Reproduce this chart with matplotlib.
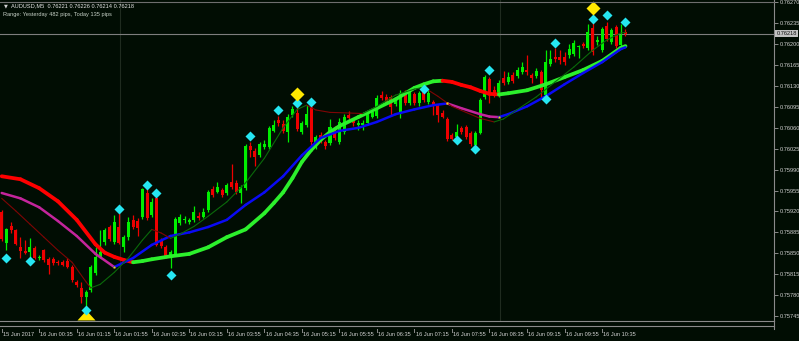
import numpy as np
import matplotlib
matplotlib.use("Agg")
import matplotlib.pyplot as plt
from matplotlib import font_manager
from matplotlib.collections import LineCollection
from matplotlib.lines import Line2D
from matplotlib.transforms import blended_transform_factory

# ---------------- data ----------------
symbol = "AUDUSD,M5"
range_info = "Range: Yesterday 482 pips, Today 135 pips"
time_labels = ["15 Jun 2017", "16 Jun 00:35", "16 Jun 01:15", "16 Jun 01:55", "16 Jun 02:35",
               "16 Jun 03:15", "16 Jun 03:55", "16 Jun 04:35", "16 Jun 05:15", "16 Jun 05:55",
               "16 Jun 06:35", "16 Jun 07:15", "16 Jun 07:55", "16 Jun 08:35", "16 Jun 09:15",
               "16 Jun 09:55", "16 Jun 10:35"]
time_label_bars = [0, 8, 16, 24, 32, 40, 48, 56, 64, 72, 80, 88, 96, 104, 112, 120, 128]
price_ticks = [0.75745, 0.75780, 0.75815, 0.75850, 0.75885, 0.75920, 0.75955, 0.75990,
               0.76025, 0.76060, 0.76095, 0.76130, 0.76165, 0.76200, 0.76235, 0.76270]

open_ = [0.75919, 0.75867, 0.75895, 0.75889, 0.75860, 0.75854, 0.75852, 0.75859, 0.75842, 0.75855,
         0.75840, 0.75840, 0.75835, 0.75835, 0.75837, 0.75827, 0.75802, 0.75792, 0.75777, 0.75788,
         0.75817, 0.75844, 0.75869, 0.75894, 0.75869, 0.75894, 0.75860, 0.75877, 0.75905, 0.75904,
         0.75910, 0.75951, 0.75914, 0.75942, 0.75872, 0.75860, 0.75847, 0.75847, 0.75900, 0.75905,
         0.75902, 0.75905, 0.75912, 0.75910, 0.75922, 0.75957, 0.75952, 0.75956, 0.75951, 0.75969,
         0.75967, 0.75951, 0.75959, 0.76029, 0.76021, 0.76014, 0.76028, 0.76028, 0.76055, 0.76073,
         0.76066, 0.76053, 0.76081, 0.76085, 0.76053, 0.76065, 0.76095, 0.76033, 0.76048, 0.76036,
         0.76035, 0.76060, 0.76036, 0.76053, 0.76081, 0.76073, 0.76065, 0.76065, 0.76068, 0.76078,
         0.76080, 0.76115, 0.76112, 0.76112, 0.76100, 0.76085, 0.76120, 0.76101, 0.76117, 0.76101,
         0.76120, 0.76103, 0.76103, 0.76096, 0.76085, 0.76075, 0.76048, 0.76045, 0.76060, 0.76061,
         0.76051, 0.76031, 0.76051, 0.76112, 0.76142, 0.76123, 0.76115, 0.76143, 0.76137, 0.76148,
         0.76147, 0.76153, 0.76157, 0.76148, 0.76147, 0.76153, 0.76115, 0.76167, 0.76179, 0.76179,
         0.76179, 0.76182, 0.76184, 0.76195, 0.76200, 0.76194, 0.76227, 0.76204, 0.76190, 0.76230,
         0.76204, 0.76229, 0.76199, 0.76221]
high_ = [0.75922, 0.75892, 0.75902, 0.75890, 0.75877, 0.75872, 0.75875, 0.75862, 0.75847, 0.75857,
         0.75844, 0.75844, 0.75838, 0.75839, 0.75842, 0.75830, 0.75805, 0.75802, 0.75788, 0.75830,
         0.75860, 0.75889, 0.75892, 0.75897, 0.75914, 0.75917, 0.75880, 0.75910, 0.75914, 0.75909,
         0.75959, 0.75961, 0.75942, 0.75947, 0.75875, 0.75864, 0.75855, 0.75910, 0.75916, 0.75912,
         0.75909, 0.75929, 0.75919, 0.75926, 0.75956, 0.75962, 0.75969, 0.75959, 0.75967, 0.75999,
         0.75972, 0.75964, 0.76033, 0.76036, 0.76026, 0.76036, 0.76040, 0.76063, 0.76073, 0.76080,
         0.76073, 0.76083, 0.76096, 0.76100, 0.76071, 0.76098, 0.76100, 0.76048, 0.76053, 0.76040,
         0.76075, 0.76063, 0.76076, 0.76083, 0.76088, 0.76076, 0.76073, 0.76073, 0.76088, 0.76093,
         0.76115, 0.76122, 0.76117, 0.76115, 0.76110, 0.76123, 0.76123, 0.76122, 0.76120, 0.76122,
         0.76127, 0.76123, 0.76107, 0.76100, 0.76090, 0.76078, 0.76051, 0.76066, 0.76063, 0.76065,
         0.76055, 0.76055, 0.76110, 0.76148, 0.76145, 0.76130, 0.76140, 0.76155, 0.76153, 0.76153,
         0.76162, 0.76170, 0.76182, 0.76152, 0.76160, 0.76157, 0.76190, 0.76190, 0.76194, 0.76190,
         0.76187, 0.76200, 0.76207, 0.76199, 0.76204, 0.76234, 0.76236, 0.76214, 0.76229, 0.76237,
         0.76227, 0.76232, 0.76234, 0.76226]
low_ = [0.75870, 0.75855, 0.75884, 0.75864, 0.75842, 0.75849, 0.75844, 0.75840, 0.75839, 0.75835,
        0.75815, 0.75830, 0.75831, 0.75828, 0.75825, 0.75802, 0.75793, 0.75767, 0.75760, 0.75785,
        0.75813, 0.75842, 0.75864, 0.75870, 0.75865, 0.75865, 0.75852, 0.75872, 0.75890, 0.75879,
        0.75907, 0.75906, 0.75910, 0.75862, 0.75859, 0.75842, 0.75825, 0.75845, 0.75897, 0.75900,
        0.75899, 0.75902, 0.75905, 0.75909, 0.75919, 0.75944, 0.75951, 0.75944, 0.75947, 0.75957,
        0.75949, 0.75934, 0.75956, 0.76011, 0.75996, 0.76011, 0.76024, 0.76024, 0.76053, 0.76063,
        0.76051, 0.76036, 0.76078, 0.76055, 0.76050, 0.76061, 0.76023, 0.76024, 0.76035, 0.76024,
        0.76031, 0.76040, 0.76033, 0.76050, 0.76073, 0.76063, 0.76056, 0.76056, 0.76065, 0.76076,
        0.76076, 0.76107, 0.76100, 0.76080, 0.76096, 0.76076, 0.76098, 0.76098, 0.76098, 0.76096,
        0.76103, 0.76100, 0.76081, 0.76070, 0.76076, 0.76038, 0.76040, 0.76041, 0.76050, 0.76041,
        0.76029, 0.76026, 0.76050, 0.76108, 0.76101, 0.76112, 0.76112, 0.76132, 0.76133, 0.76135,
        0.76143, 0.76150, 0.76148, 0.76135, 0.76143, 0.76112, 0.76112, 0.76163, 0.76170, 0.76167,
        0.76165, 0.76177, 0.76180, 0.76177, 0.76194, 0.76190, 0.76182, 0.76199, 0.76187, 0.76205,
        0.76200, 0.76194, 0.76197, 0.76214]
close_ = [0.75874, 0.75890, 0.75889, 0.75865, 0.75854, 0.75851, 0.75860, 0.75842, 0.75844, 0.75839,
          0.75830, 0.75834, 0.75833, 0.75830, 0.75827, 0.75805, 0.75797, 0.75777, 0.75785, 0.75827,
          0.75844, 0.75852, 0.75889, 0.75874, 0.75902, 0.75867, 0.75877, 0.75902, 0.75894, 0.75892,
          0.75957, 0.75909, 0.75936, 0.75864, 0.75862, 0.75845, 0.75852, 0.75907, 0.75910, 0.75907,
          0.75905, 0.75919, 0.75909, 0.75919, 0.75952, 0.75947, 0.75961, 0.75947, 0.75964, 0.75961,
          0.75952, 0.75961, 0.76029, 0.76023, 0.76011, 0.76033, 0.76033, 0.76060, 0.76065, 0.76068,
          0.76055, 0.76078, 0.76091, 0.76058, 0.76068, 0.76083, 0.76036, 0.76045, 0.76040, 0.76029,
          0.76061, 0.76043, 0.76070, 0.76078, 0.76076, 0.76068, 0.76068, 0.76068, 0.76085, 0.76086,
          0.76110, 0.76110, 0.76103, 0.76095, 0.76105, 0.76118, 0.76101, 0.76118, 0.76101, 0.76118,
          0.76107, 0.76118, 0.76096, 0.76081, 0.76078, 0.76041, 0.76041, 0.76053, 0.76053, 0.76045,
          0.76033, 0.76051, 0.76107, 0.76145, 0.76117, 0.76115, 0.76135, 0.76135, 0.76145, 0.76138,
          0.76157, 0.76162, 0.76153, 0.76143, 0.76155, 0.76123, 0.76170, 0.76175, 0.76175, 0.76174,
          0.76170, 0.76192, 0.76202, 0.76197, 0.76197, 0.76220, 0.76187, 0.76207, 0.76225, 0.76209,
          0.76224, 0.76197, 0.76215, 0.76218]

# slow MA (thick red/green)
slow_bar = [0, 4, 8, 12, 16, 20, 22, 24, 26, 28, 30, 32, 36, 40, 44, 48, 52, 56, 58, 60, 62, 64,
            66, 68, 70, 72, 76, 80, 84, 88, 90, 92, 94, 96, 98, 100, 102, 104, 106, 108, 112,
            116, 120, 124, 128, 132, 133]
slow_val = [0.75979, 0.75974, 0.75959, 0.75937, 0.75906, 0.75865, 0.75851, 0.75844, 0.75839,
            0.75835, 0.75837, 0.75840, 0.75845, 0.75849, 0.75860, 0.75877, 0.75890, 0.75917,
            0.75934, 0.75952, 0.75976, 0.76003, 0.76023, 0.76040, 0.76053, 0.76063, 0.76078,
            0.76093, 0.76108, 0.76127, 0.76133, 0.76138, 0.76139, 0.76137, 0.76132, 0.76128,
            0.76122, 0.76117, 0.76116, 0.76118, 0.76123, 0.76133, 0.76145, 0.76157, 0.76172,
            0.76194, 0.76197]
# medium MA (blue/magenta)
mid_bar = [0, 4, 8, 12, 16, 20, 24, 28, 32, 36, 40, 44, 48, 52, 56, 60, 64, 68, 72, 76, 80, 84,
           88, 92, 95, 98, 102, 104, 106, 108, 112, 116, 120, 124, 128, 132, 133]
mid_val = [0.75951, 0.75942, 0.75927, 0.75904, 0.75879, 0.75849, 0.75827, 0.75842, 0.75864,
           0.75879, 0.75885, 0.75894, 0.75906, 0.75931, 0.75952, 0.75979, 0.76014, 0.76043,
           0.76055, 0.76060, 0.76070, 0.76083, 0.76091, 0.76098, 0.76101, 0.76093, 0.76083,
           0.76079, 0.76078, 0.76083, 0.76096, 0.76113, 0.76133, 0.76152, 0.76170, 0.76192, 0.76195]
# fast MA (thin dark red/dark green)
fast_bar = [0, 3, 6, 9, 12, 15, 18, 19, 21, 24, 27, 30, 32, 34, 36, 38, 41, 44, 48, 52, 56, 60,
            63, 65, 67, 70, 74, 77, 80, 84, 88, 90, 93, 96, 99, 102, 105, 107, 110, 114, 118,
            122, 126, 129, 132, 133]
fast_val = [0.75942, 0.75921, 0.75899, 0.75877, 0.75855, 0.75835, 0.75802, 0.75792, 0.75798,
            0.75818, 0.75842, 0.75872, 0.75890, 0.75884, 0.75875, 0.75882, 0.75895, 0.75912,
            0.75936, 0.75968, 0.76009, 0.76060, 0.76091, 0.76098, 0.76090, 0.76086, 0.76085,
            0.76084, 0.76096, 0.76115, 0.76125, 0.76128, 0.76113, 0.76096, 0.76086, 0.76076,
            0.76070, 0.76075, 0.76091, 0.76112, 0.76137, 0.76162, 0.76190, 0.76207, 0.76219, 0.76220]

# fractal markers (cyan diamonds)
fractal_bar = [1, 6, 18, 25, 31, 33, 36, 53, 59, 63, 66, 90, 97, 101, 104, 116, 118, 126, 129, 133]
fractal_val = [0.75842, 0.75837, 0.75755, 0.75924, 0.75964, 0.75951, 0.75813, 0.76046, 0.76090,
               0.76101, 0.76103, 0.76125, 0.76040, 0.76024, 0.76157, 0.76109, 0.76203, 0.76242,
               0.76249, 0.76237]
# signal markers (yellow)
signal_bar = [63, 126]
signal_val = [0.76117, 0.76261]
arrow_bar = [18]
arrow_val = [0.75746]
separator_bars = [25.2, 106.2]

# ---------------- layout / style ----------------
W, H = 799, 341
BG = "#010D03"
TXT = "#D2D2D2"
AXC = "#8A8A8A"
C_UP, C_DN = "#00EE00", "#EE0000"

names = {f.name for f in font_manager.fontManager.ttflist}
if "Liberation Sans Narrow" in names:
    FONT, FS = "Liberation Sans Narrow", 4.8
else:
    FONT, FS = "Liberation Sans", 4.1
plt.rcParams["font.family"] = [FONT, "DejaVu Sans"]

PLOT_R, PLOT_B = 774, 321          # plot area in pixels
BAR0, BAR_W = 1.7, 4.69            # first bar pixel, pixels per bar
k = (price_ticks[-1] - price_ticks[0]) / 313.5   # price per pixel

fig = plt.figure(figsize=(W / 100, H / 100), dpi=100, facecolor=BG)
ax = fig.add_axes([0, (H - PLOT_B) / H, PLOT_R / W, PLOT_B / H])
ax.set_facecolor(BG)
ax.set_xlim(-BAR0 / BAR_W, (PLOT_R - BAR0) / BAR_W)
ax.set_ylim(price_ticks[-1] - (PLOT_B - 2.5) * k, price_ticks[-1] + 2.5 * k)

o = np.array(open_); h = np.array(high_); l = np.array(low_); c = np.array(close_)
x = np.arange(len(c))
cols = np.where(c >= o, C_UP, C_DN)

for sb in separator_bars:
    ax.axvline(sb, color="#1F2B1F", lw=0.8, zorder=0.5)

ax.axhline(c[-1], color="#7E7E7E", lw=0.8, zorder=1)

ax.vlines(x, l, h, colors=cols, linewidth=0.9, zorder=2)
ax.bar(x, np.maximum(np.abs(c - o), 0.9 * k), bottom=np.minimum(o, c), width=0.64,
       color=cols, linewidth=0, zorder=2)


def colored_line(xs, ys, up_col, dn_col, lw, z):
    xs = np.asarray(xs, float); ys = np.asarray(ys, float)
    segs = np.stack([np.column_stack([xs[:-1], ys[:-1]]),
                     np.column_stack([xs[1:], ys[1:]])], axis=1)
    seg_cols = [up_col if ys[i + 1] >= ys[i] else dn_col for i in range(len(xs) - 1)]
    ax.add_collection(LineCollection(segs, colors=seg_cols, linewidths=lw,
                                     capstyle="round", joinstyle="round", zorder=z))
    return seg_cols


colored_line(slow_bar, slow_val, "#2CF02C", "#FF0000", 2.7, 3)
mcols = colored_line(mid_bar, mid_val, "#0A0AF5", "#C4259C", 1.8, 3.1)
colored_line(fast_bar, fast_val, "#0A6A0A", "#7E0505", 0.8, 3.2)

# yellow dots where the medium line changes colour
tx = [mid_bar[i] for i in range(1, len(mcols)) if mcols[i] != mcols[i - 1]]
ty = [mid_val[i] for i in range(1, len(mcols)) if mcols[i] != mcols[i - 1]]
ax.plot(tx, ty, ls="none", marker="s", ms=2.0, color="#F0E000", mec="none", zorder=3.3)

ax.plot(arrow_bar, arrow_val, ls="none", marker=[(-1, -0.55), (1, -0.55), (0, 0.55)],
        ms=13, color="#FFE800", mec="none", zorder=4)
ax.plot(fractal_bar, fractal_val, ls="none", marker="D", ms=5.4, color="#25E6F2",
        mec="none", zorder=5)
ax.plot(signal_bar, signal_val, ls="none", marker="D", ms=7.6, color="#FFE800",
        mec="none", zorder=5.5)

# axes styling
for s in ["top", "left", "bottom"]:
    ax.spines[s].set_visible(False)
ax.spines["right"].set_color(AXC)
ax.spines["right"].set_linewidth(0.8)
ax.yaxis.tick_right()
ax.set_yticks(price_ticks)
ax.set_yticklabels([f"{p:.5f}" for p in price_ticks])
ax.tick_params(axis="y", direction="out", length=3, width=0.7, color=AXC,
               labelcolor=TXT, labelsize=FS, pad=1.2)
ax.set_xticks([])

# frame lines
def hline_px(y, x0=0, x1=PLOT_R, col=AXC, lw=0.8):
    fig.add_artist(Line2D([x0 / W, x1 / W], [1 - y / H, 1 - y / H], color=col, lw=lw))

hline_px(PLOT_B)
hline_px(326)
hline_px(1.7, col="#6E6E6E")
fig.add_artist(Line2D([PLOT_R / W, PLOT_R / W], [1 - 329 / H, 1 - PLOT_B / H], color=AXC, lw=0.8))

# time labels
trans = blended_transform_factory(ax.transData, fig.transFigure)
for b, lab in zip(time_label_bars, time_labels):
    fig.add_artist(Line2D([b, b], [1 - 328.5 / H, 1 - 331.5 / H], transform=trans,
                          color=AXC, lw=0.7))
    fig.text(0, 0, lab, transform=trans).set_position((b + 0.25, 1 - 335 / H))
for t in fig.texts:
    t.set_fontsize(FS); t.set_color(TXT); t.set_va("center"); t.set_ha("left")

# current price box
ax.text(1.0 + 2.5 / PLOT_R, c[-1], f"{c[-1]:.5f}",
        transform=blended_transform_factory(ax.transAxes, ax.transData),
        ha="left", va="center", fontsize=FS, color="#101010", clip_on=False,
        bbox=dict(boxstyle="square,pad=0.18", fc="#C2C2C2", ec="none"), zorder=6)

# header
fig.text(3.5 / W, 1 - 6 / H, "\u25BC", family="DejaVu Sans", fontsize=3.6, color=TXT, va="center")
fig.text(11 / W, 1 - 6 / H, f"{symbol}  {o[-1]:.5f} {h[-1]:.5f} {l[-1]:.5f} {c[-1]:.5f}",
         fontsize=FS, color="#E6E6E6", va="center")
fig.text(3 / W, 1 - 14.5 / H, range_info, fontsize=FS, color="#C8D2C8", va="center")

fig.savefig("out.png", dpi=100, facecolor=BG)
